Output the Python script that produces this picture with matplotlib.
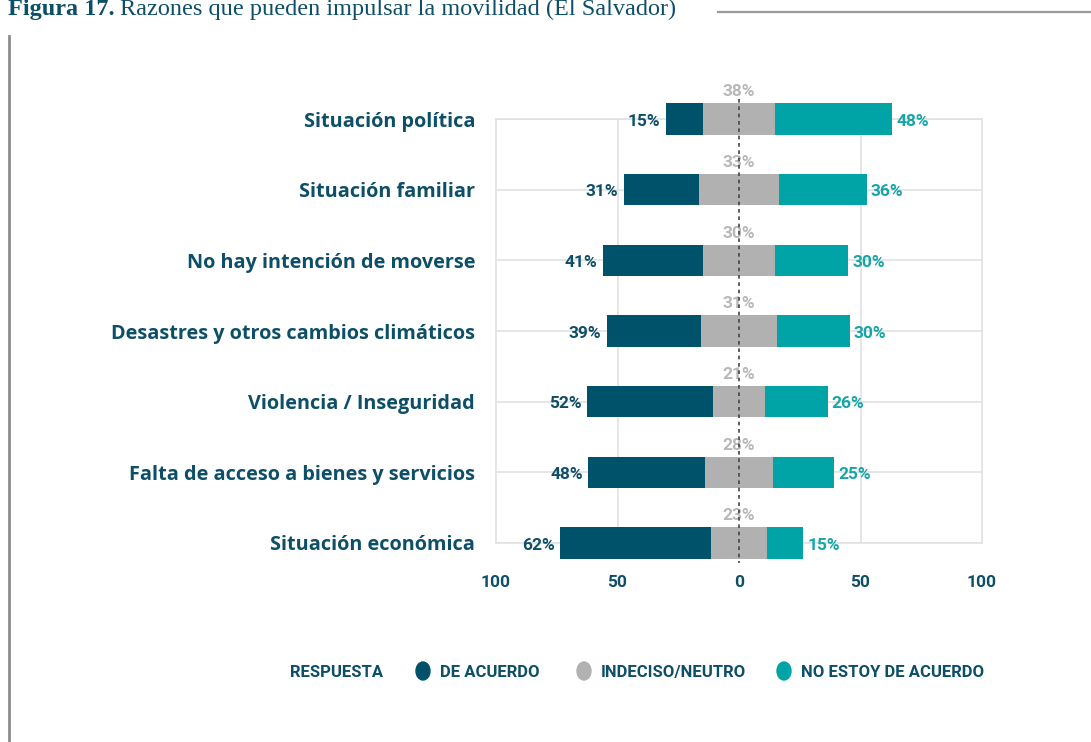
import numpy as np
import matplotlib
matplotlib.use("Agg")
import matplotlib.pyplot as plt
from matplotlib.lines import Line2D
from matplotlib.patches import Ellipse

# ─────────────────────────────────────────────
# Data
# ─────────────────────────────────────────────
categories = [
    "Situación política",
    "Situación familiar",
    "No hay intención de moverse",
    "Desastres y otros cambios climáticos",
    "Violencia / Inseguridad",
    "Falta de acceso a bienes y servicios",
    "Situación económica",
]
agree = [15, 31, 41, 39, 52, 48, 62]
neutral = [30, 33, 30, 31, 21, 28, 23]          # width of the grey bar as drawn
neutral_labels = [38, 33, 30, 31, 21, 28, 23]   # value printed above it
disagree = [48, 36, 30, 30, 26, 25, 15]

xticks = [-100, -50, 0, 50, 100]
xtick_labels = ["100", "50", "0", "50", "100"]

legend_title = "RESPUESTA"
series_names = ["DE ACUERDO", "INDECISO/NEUTRO", "NO ESTOY DE ACUERDO"]

title_bold = "Figura 17."
title_rest = "Razones que pueden impulsar la movilidad (El Salvador)"

# ─────────────────────────────────────────────
# Style
# ─────────────────────────────────────────────
DARK = "#00526a"
GREY = "#b1b1b1"
TEAL = "#00a3a6"
TEXT = "#0e4f68"
TEAL_TXT = "#17a6a8"
GRID = "#e2e2e2"
SERIF = ["Liberation Serif", "DejaVu Serif"]

plt.rcParams["font.family"] = ["Roboto", "DejaVu Sans"]

W, H = 1091, 742


def fx(px):
    return px / W


def fy(py):
    return 1 - py / H


fig = plt.figure(figsize=(W / 100, H / 100), dpi=100)
ax = fig.add_axes([fx(496), fy(543), 486 / W, 424 / H])

y = np.arange(len(categories))
agree_a = np.array(agree)
neutral_a = np.array(neutral)
disagree_a = np.array(disagree)

bh = 0.44
ax.barh(y, agree_a, left=-neutral_a / 2 - agree_a, height=bh,
        color=DARK, clip_on=False, zorder=3)
ax.barh(y, neutral_a, left=-neutral_a / 2, height=bh,
        color=GREY, clip_on=False, zorder=3)
ax.barh(y, disagree_a, left=neutral_a / 2, height=bh,
        color=TEAL, clip_on=False, zorder=3)

# centre reference line
ax.plot([0, 0], [-0.29, 6.28], color="#444444", lw=1.2,
        dashes=(2.2, 2.2), clip_on=False, zorder=4)

# value labels
for i in range(len(categories)):
    ax.annotate(f"{agree[i]}%", xy=(-neutral[i] / 2 - agree[i], i),
                xytext=(-4, -1.5), textcoords="offset points",
                ha="right", va="center", fontsize=12.5,
                fontweight="bold", color=TEXT, annotation_clip=False)
    ax.annotate(f"{disagree[i]}%", xy=(neutral[i] / 2 + disagree[i], i),
                xytext=(3, -1.5), textcoords="offset points",
                ha="left", va="center", fontsize=12.5,
                fontweight="bold", color=TEAL_TXT, annotation_clip=False)
    ax.annotate(f"{neutral_labels[i]}%", xy=(0, i),
                xytext=(0, 19.5), textcoords="offset points",
                ha="center", va="center", fontsize=12.5,
                fontweight="bold", color="#b8b8b8", annotation_clip=False)

# axes, grid
ax.set_xlim(-100, 100)
ax.set_ylim(len(categories) - 1, 0)
ax.set_yticks(y)
ax.set_yticklabels(categories, fontsize=14.3, fontweight="bold", color=TEXT,
                   family=["Open Sans", "DejaVu Sans"])
ax.set_xticks(xticks)
ax.set_xticklabels(xtick_labels, fontsize=12.5, fontweight="bold", color=TEXT)
ax.tick_params(length=0)
ax.tick_params(axis="y", pad=15)
ax.tick_params(axis="x", pad=23)
ax.yaxis.grid(True, color=GRID, lw=1.2)
for v in [-50, 50]:
    ax.axvline(v, color=GRID, lw=1.2, zorder=0)
ax.set_axisbelow(True)
for s in ax.spines.values():
    s.set_color(GRID)
    s.set_linewidth(1.2)

# legend (drawn by hand, like the source layout)
lb = fy(677)
fig.text(fx(290), lb, legend_title, ha="left", va="baseline",
         fontsize=12, fontweight="bold", color=TEXT)
for name, col, mx in zip(series_names, [DARK, GREY, TEAL], [423, 584, 784]):
    fig.add_artist(Ellipse((fx(mx), fy(671)), 14 / W, 18 / H,
                           transform=fig.transFigure, color=col))
    fig.text(fx(mx + 17), lb, name, ha="left", va="baseline",
             fontsize=12, fontweight="bold", color=TEXT)

# title (sits at the top edge, as in the source page)
t1 = fig.text(fx(8), fy(15), title_bold, ha="left", va="baseline",
              fontsize=17.5, fontweight="bold", color=TEXT, family=SERIF)
fig.canvas.draw()
x_end = t1.get_window_extent().x1 / W
fig.text(x_end + 5 / W, fy(15), title_rest, ha="left", va="baseline",
         fontsize=17.5, color=TEXT, family=SERIF)
fig.add_artist(Line2D([fx(718), 1.0], [fy(12), fy(12)],
                      transform=fig.transFigure, color="#9a9a9a", lw=1.6))

# frame line on the left
fig.add_artist(Line2D([fx(9), fx(9)], [fy(36), 0.0],
                      transform=fig.transFigure, color="#8c8c8c", lw=2))

fig.savefig("out.png", dpi=100)
